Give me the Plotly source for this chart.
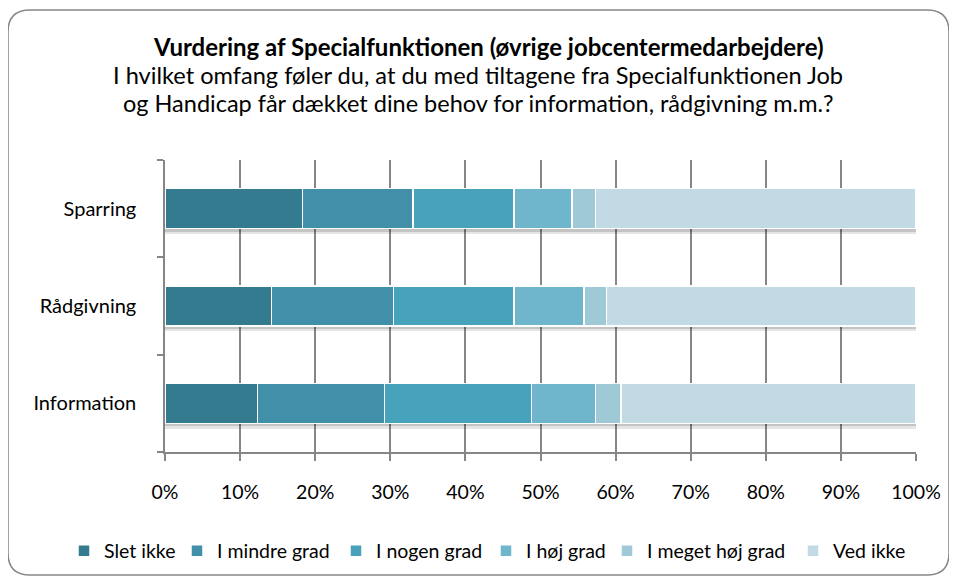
import plotly.graph_objects as go

categories = ["Information", "Rådgivning", "Sparring"]
series_names = ["Slet ikke", "I mindre grad", "I nogen grad", "I høj grad", "I meget høj grad", "Ved ikke"]
slet_ikke = [0.123, 0.142, 0.183]
mindre_grad = [0.169, 0.162, 0.147]
nogen_grad = [0.196, 0.161, 0.135]
hoej_grad = [0.085, 0.093, 0.077]
meget_hoej_grad = [0.034, 0.030, 0.031]
ved_ikke = [0.393, 0.412, 0.427]
values = [slet_ikke, mindre_grad, nogen_grad, hoej_grad, meget_hoej_grad, ved_ikke]
colors = ["#357b8f", "#418fa8", "#47a3bc", "#6fb5cb", "#a0c9d8", "#c1dae3"]
x_ticks = [i / 10 for i in range(11)]

FONT = "Lato"
OFF = 8  # browser body margin
W, H = 957 - OFF, 581 - OFF
L, R, T, B = 165 - OFF, 41, 160 - OFF, 129
pw, ph = W - L - R, H - T - B

def px(x):
    return (x - OFF - L) / pw

def py(y):
    return 1 - (y - OFF - T) / ph

# legend text start positions (page px) for each series
legend_text_x = [101, 214, 373, 523, 644, 830]
legend_ids = ["legend"] + [f"legend{i}" for i in range(2, 7)]

BAR_W = 0.41
totals = [sum(v[i] for v in values) for i in range(len(categories))]

fig = go.Figure()
# soft drop shadows beneath the bars
for yax, shift, alpha in [("y", 0.055, 0.10), ("y2", 0.03, 0.14)]:
    fig.add_trace(go.Bar(
        y=categories, x=totals, orientation="h", yaxis=yax,
        width=BAR_W, offset=-BAR_W / 2 - shift,
        marker=dict(color=f"rgba(0,0,0,{alpha})", line=dict(width=0)),
        showlegend=False, hoverinfo="skip",
    ))
for name, vals, col, lid in zip(series_names, values, colors, legend_ids):
    fig.add_trace(go.Bar(
        y=categories, x=vals, name=name, orientation="h", legend=lid, yaxis="y3",
        width=BAR_W,
        marker=dict(color=col, line=dict(color="white", width=1.5)),
    ))

# rounded outer border (reference page coords)
x0, x1, y0, y1, r = 8, 949, 10, 575, 22
path = (f"M {px(x0 + r)},{py(y0)} L {px(x1 - r)},{py(y0)} "
        f"Q {px(x1)},{py(y0)} {px(x1)},{py(y0 + r)} "
        f"L {px(x1)},{py(y1 - r)} Q {px(x1)},{py(y1)} {px(x1 - r)},{py(y1)} "
        f"L {px(x0 + r)},{py(y1)} Q {px(x0)},{py(y1)} {px(x0)},{py(y1 - r)} "
        f"L {px(x0)},{py(y0 + r)} Q {px(x0)},{py(y0)} {px(x0 + r)},{py(y0)} Z")

legend_layouts = {}
for lid, tx in zip(legend_ids, legend_text_x):
    legend_layouts[lid] = dict(
        orientation="h", x=px(tx + 3 - 40), xanchor="left",
        y=py(551), yanchor="middle", bgcolor="rgba(0,0,0,0)",
        font=dict(family=FONT, size=19.5, color="#000000"),
    )

hidden_y = dict(overlaying="y", categoryorder="array", categoryarray=categories,
                visible=False, showgrid=False, zeroline=False)

fig.update_layout(
    width=W, height=H,
    margin=dict(l=L, r=R, t=T, b=B, autoexpand=False),
    paper_bgcolor="white", plot_bgcolor="white",
    barmode="stack",
    font=dict(family=FONT, size=19.5, color="#000000"),
    showlegend=True,
    yaxis2=hidden_y, yaxis3=hidden_y,
    shapes=[dict(type="path", xref="paper", yref="paper", path=path,
                 line=dict(color="#868686", width=1.5), layer="below")],
    annotations=[
        dict(text="<b>Vurdering af Specialfunktionen (øvrige jobcentermedarbejdere)</b>",
             xref="paper", yref="paper", x=px(488), y=py(46), showarrow=False,
             xanchor="center", yanchor="middle", font=dict(family=FONT, size=24)),
        dict(text="I hvilket omfang føler du, at du med tiltagene fra Specialfunktionen Job",
             xref="paper", yref="paper", x=px(478), y=py(75), showarrow=False,
             xanchor="center", yanchor="middle", font=dict(family=FONT, size=23.6)),
        dict(text="og Handicap får dækket dine behov for information, rådgivning m.m.?",
             xref="paper", yref="paper", x=px(478), y=py(103), showarrow=False,
             xanchor="center", yanchor="middle", font=dict(family=FONT, size=23.5)),
    ],
    **legend_layouts,
)

fig.update_xaxes(
    range=[0, 1], tickvals=x_ticks, tickformat=".0%",
    showgrid=True, gridcolor="#868686", gridwidth=1.5,
    showline=True, linecolor="#868686", linewidth=1.5,
    ticks="outside", ticklen=7, tickcolor="#868686", tickwidth=1.5,
    ticklabelstandoff=15, zeroline=False,
    tickfont=dict(family=FONT, size=19.5),
)
fig.update_layout(yaxis=dict(
    categoryorder="array", categoryarray=categories,
    showline=True, linecolor="#868686", linewidth=1.5,
    ticks="outside", tickson="boundaries", ticklen=6, tickcolor="#868686", tickwidth=1.5,
    ticklabelstandoff=23, showgrid=False,
    tickfont=dict(family=FONT, size=20),
))

fig.write_html("out.html")
